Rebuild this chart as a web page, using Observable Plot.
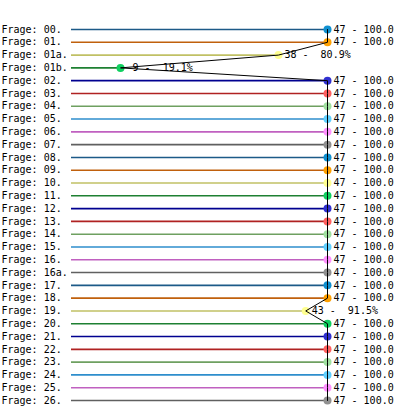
<!DOCTYPE html>
<html>
<head>
<meta charset="utf-8">
<script src="https://cdn.jsdelivr.net/npm/d3@7"></script>
<script src="https://cdn.jsdelivr.net/npm/@observablehq/plot@0.6"></script>
<style>
  html, body { margin: 0; padding: 0; background: #fff; }
  svg { display: block; }
</style>
</head>
<body>
<div id="chart"></div>
<script>
const questions = ["00","01","01a","01b","02","03","04","05","06","07","08","09","10","11","12","13","14","15","16","16a","17","18","19","20","21","22","23","24","25","26"];
const counts = [47,47,38,9,47,47,47,47,47,47,47,47,47,47,47,47,47,47,47,47,47,47,43,47,47,47,47,47,47,47];
const percents = [100.0,100.0,80.9,19.1,100.0,100.0,100.0,100.0,100.0,100.0,100.0,100.0,100.0,100.0,100.0,100.0,100.0,100.0,100.0,100.0,100.0,100.0,91.5,100.0,100.0,100.0,100.0,100.0,100.0,100.0];
const total = 47;
const lineColors = ["#1c5a88","#c0600c","#c0c064","#1e8032","#000090","#b02222","#6ea060","#2e8ecc","#c060c0","#606060"];
const dotColors = ["#1090d0","#ffa000","#ffff90","#10d060","#3030d0","#ff6060","#a0e0a0","#60d0ff","#ff90ff","#909090"];

const data = questions.map((q, i) => {
  const pct = percents[i].toFixed(1);
  return {
    q: "Frage: " + q + ".",
    n: counts[i],
    line: lineColors[i % 10],
    dot: dotColors[i % 10],
    // the trailing % of 100.0 runs past the right edge in the reference, so only the visible part is shown
    label: String(counts[i]).padStart(2, " ") + " - " + pct.padStart(5, " ") + (pct.length < 5 ? "%" : "")
  };
});

const font = "DejaVu Sans Mono, monospace";

const chart = Plot.plot({
  width: 394,
  height: 411,
  marginLeft: 71,
  marginRight: 67,
  marginTop: 29,
  marginBottom: 11,
  style: { fontFamily: font, fontSize: "10px", background: "#fff", overflow: "hidden" },
  x: { domain: [0, total], axis: null },
  y: { domain: data.map(d => d.q), type: "point", padding: 0, round: false, axis: null },
  marks: [
    Plot.ruleY(data, { y: "q", x1: 0, x2: "n", stroke: "line", strokeWidth: 1.6 }),
    Plot.text(data, { y: "q", text: "q", frameAnchor: "left", textAnchor: "start", dx: -70, fill: "#000", fontFamily: font, fontSize: 10 }),
    Plot.dot(data, { x: "n", y: "q", r: 4, fill: "dot", stroke: "none" }),
    Plot.text(data, { x: "n", y: "q", text: "label", textAnchor: "start", dx: 6, fill: "#000", fontFamily: font, fontSize: 10 }),
    Plot.line(data, { x: "n", y: "q", stroke: "#000", strokeWidth: 1, curve: "linear" })
  ]
});
chart.querySelectorAll("text").forEach(t => t.setAttribute("xml:space", "preserve"));
chart.style.whiteSpace = "pre";
document.getElementById("chart").appendChild(chart);
</script>
</body>
</html>
